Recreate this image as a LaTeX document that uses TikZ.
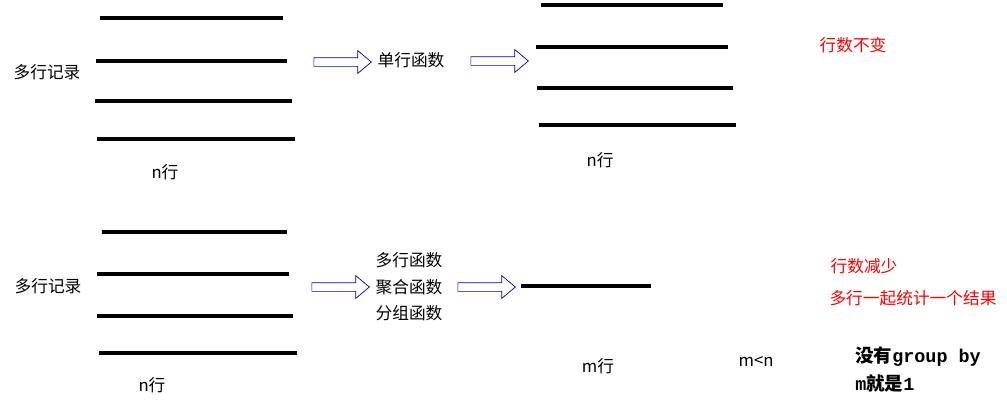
\documentclass[tikz,border=0pt]{standalone}
\usepackage{fontspec}
\setmainfont{Liberation Sans}
\newfontfamily\cjk{Noto Sans CJK SC}
\newfontfamily\cjkmono{Liberation Mono}
\usetikzlibrary{positioning,shapes.arrows}
\tikzstyle{rec}=[line width=2.2pt]
\tikzstyle{lbl}=[font=\cjk\fontsize{9.5}{11}\selectfont, inner sep=0pt]
\tikzstyle{note}=[lbl, text=red]
\tikzstyle{harrow}=[single arrow, draw=blue!70!black, fill=white, minimum height=1.15cm,
                    single arrow head extend=0.14cm, single arrow tip angle=80,
                    inner xsep=0pt, inner ysep=0.08cm]
\begin{document}
\begin{tikzpicture}[x=0.02cm,y=-0.02cm]
\useasboundingbox (0,0) rectangle (1007,410);

% top: single-row functions
\foreach \a/\b/\y [count=\i] in {100/283/18, 96/287/61, 95/292/101, 97/295/139}{
  \coordinate (TL\i) at (\a,\y); \coordinate (TR\i) at (\b,\y);
  \draw[rec] (TL\i) -- (TR\i);
}
\node (TSRC) [lbl] at (47,72) {多行记录};
\node (TN) [lbl] at (165,172) {n行};
\node (TA1) [harrow] at (340,62) {};
\node (SROW) [lbl] at (411,60) {单行函数};
\node (TA2) [harrow] at (497,61) {};
\foreach \a/\b/\y [count=\i] in {541/723/5, 536/728/47, 537/733/88, 539/736/125}{
  \coordinate (UL\i) at (\a,\y); \coordinate (UR\i) at (\b,\y);
  \draw[rec] (UL\i) -- (UR\i);
}
\node (UN) [lbl] at (600,160) {n行};
\node (SAME) [note] at (853,45) {行数不变};

% bottom: multi-row functions
\foreach \a/\b/\y [count=\i] in {102/287/232, 97/289/274, 97/293/316, 99/297/353}{
  \coordinate (BL\i) at (\a,\y); \coordinate (BR\i) at (\b,\y);
  \draw[rec] (BL\i) -- (BR\i);
}
\node (BSRC) [lbl] at (48,286) {多行记录};
\node (BN) [lbl] at (152,385) {n行};
\node (BA1) [harrow] at (338,287) {};
\node (MROW) [lbl] at (409,260) {多行函数};
\node (AGG) [lbl] at (409,287) {聚合函数};
\node (GRP) [lbl] at (409,313) {分组函数};
\node (BA2) [harrow] at (484,287) {};
\coordinate (RL) at (521,286); \coordinate (RR) at (651,286);
\draw[rec] (RL) -- (RR);
\node (MN) [lbl] at (598,366) {m行};
\node (LESS) [lbl] at (756,362) {m<n};
\node (FEWER) [note] at (864,266) {行数减少};
\node (ONE) [note] at (913,298) {多行一起统计一个结果};
\node (NOGRP) [lbl, anchor=west, font=\cjk\bfseries\fontsize{10.5}{12}\selectfont] at (855,357) {没有{\cjkmono\bfseries group by}};
\node (MONE) [lbl, anchor=west, font=\cjk\bfseries\fontsize{10.5}{12}\selectfont] at (855,383) {{\cjkmono\bfseries m}就是{\cjkmono\bfseries 1}};
\end{tikzpicture}
\end{document}
